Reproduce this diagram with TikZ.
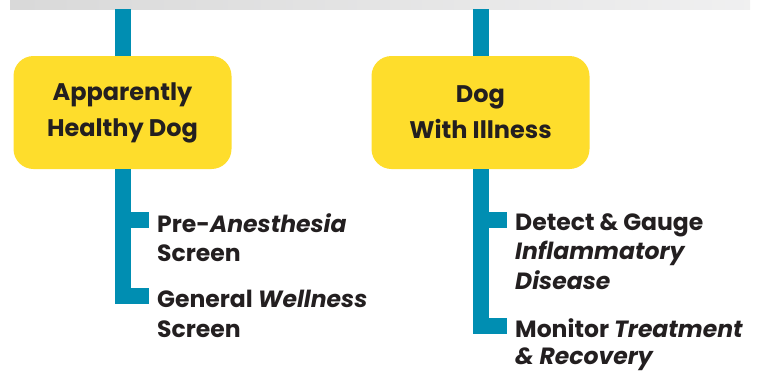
\documentclass[tikz,border=0pt]{standalone}
\usepackage{fontspec}
\setmainfont{Poppins}
\definecolor{dogyellow}{RGB}{254,221,44}
\definecolor{stemblue}{RGB}{0,142,178}
\definecolor{inkdark}{RGB}{35,31,32}
\begin{document}
\begin{tikzpicture}[x=1pt,y=-1pt,
    dogbox/.style={fill=dogyellow,rounded corners=20pt,minimum width=218pt,minimum height=113pt,
        inner sep=0pt,align=center,text=inkdark,font=\fontsize{24}{36}\selectfont\bfseries},
    item/.style={anchor=north west,inner xsep=8pt,inner ysep=0pt,align=left,text=inkdark,
        font=\fontsize{23.5}{29.5}\selectfont\bfseries},
    stem/.style={draw=stemblue,line width=16pt,line cap=butt,line join=miter}]
    \useasboundingbox (0,0) rectangle (763,370);
    \node[anchor=north west,minimum width=740pt,minimum height=9pt,inner sep=0pt,
        left color=black!15,right color=blue!4!black!6] (topbar) at (10,0) {};
    \node[dogbox] (healthy) at (122.5,112.5) {Apparently\\Healthy Dog};
    \node[dogbox] (illness) at (480.5,112.5) {Dog\\With Illness};
    \node[item] (pre) at (149,213) {Pre-\textit{Anesthesia}\\Screen};
    \node[item] (wellness) at (149,290) {General \textit{Wellness}\\Screen};
    \node[item] (detect) at (507,213) {Detect \& Gauge\\\textit{Inflammatory}\\\textit{Disease}};
    \node[item,font=\fontsize{23.5}{27}\selectfont\bfseries] (monitor) at (507,318)
        {Monitor \textit{Treatment}\\\textit{\& Recovery}};
    \coordinate (preTick) at ([yshift=-7pt]pre.north west);
    \coordinate (wellTick) at ([yshift=-6pt]wellness.north west);
    \coordinate (detTick) at ([yshift=-7pt]detect.north west);
    \coordinate (monTick) at ([yshift=-8pt]monitor.north west);
    \draw[stem] (topbar.south -| healthy.north) -- (healthy.north);
    \draw[stem] (topbar.south -| illness.north) -- (illness.north);
    \draw[stem] (healthy.south) |- (wellTick);
    \draw[stem] (healthy.south |- preTick) -- (preTick);
    \draw[stem] (illness.south) |- (monTick);
    \draw[stem] (illness.south |- detTick) -- (detTick);
\end{tikzpicture}
\end{document}
